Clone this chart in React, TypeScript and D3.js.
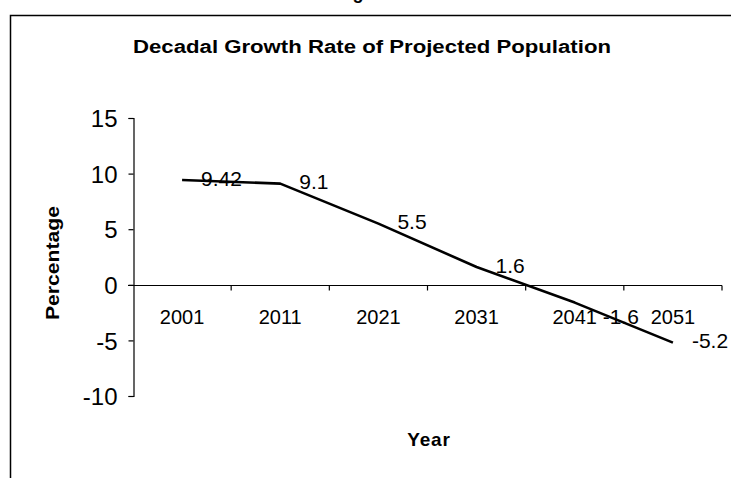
import React, { useEffect, useRef } from "react";
import * as d3 from "d3";

// Decadal growth rate (%) of the projected population by census year
const years = ["2001", "2011", "2021", "2031", "2041", "2051"];
const growthRates = [9.42, 9.1, 5.5, 1.6, -1.6, -5.2];
const yTicks = [-10, -5, 0, 5, 10, 15];

const chartTitle = "Decadal Growth Rate of Projected Population";
const xTitle = "Year";
const yTitle = "Percentage";

const W = 731;
const H = 478;
const FONT = "'Liberation Sans', Arial, Helvetica, sans-serif";

export default function App() {
  const ref = useRef<SVGSVGElement | null>(null);

  useEffect(() => {
    const svg = d3.select(ref.current);
    svg.selectAll("*").remove();

    const x = d3.scaleBand<string>().domain(years).range([133, 722]).padding(0);
    const y = d3.scaleLinear().domain([-10, 15]).range([396, 118]);
    const cx = (c: string) => (x(c) as number) + x.bandwidth() / 2;

    // Chart frame (top and left edges)
    svg
      .append("path")
      .attr("d", `M10.5,${H} L10.5,15.5 L${W},15.5`)
      .attr("fill", "none")
      .attr("stroke", "#000")
      .attr("stroke-width", 1.5);

    // Descender of heading text above the frame
    svg
      .append("text")
      .attr("x", 358)
      .attr("y", -1)
      .attr("text-anchor", "middle")
      .attr("font-family", FONT)
      .attr("font-weight", "bold")
      .attr("font-size", 18)
      .text("g");

    // Title
    svg
      .append("text")
      .attr("x", 372)
      .attr("y", 53)
      .attr("text-anchor", "middle")
      .attr("font-family", FONT)
      .attr("font-weight", "bold")
      .attr("font-size", 18)
      .attr("textLength", 478)
      .attr("lengthAdjust", "spacingAndGlyphs")
      .text(chartTitle);

    // Y axis
    const yAxis = svg
      .append("g")
      .attr("transform", "translate(133.5,0)")
      .call(
        d3
          .axisLeft(y)
          .tickValues(yTicks)
          .tickSize(5)
          .tickPadding(11)
          .tickFormat((d) => String(d))
      );
    yAxis.select(".domain").attr("stroke", "#000").attr("stroke-width", 1.2);
    yAxis.selectAll(".tick line").attr("stroke", "#000").attr("stroke-width", 1.2);
    yAxis
      .selectAll(".tick text")
      .attr("font-family", FONT)
      .attr("font-size", 24)
      .attr("fill", "#000")
      .attr("dy", "0.36em");

    // X axis along zero, with category ticks pointing down
    const y0 = Math.round(y(0)) + 0.5;
    svg
      .append("line")
      .attr("x1", 128)
      .attr("x2", 722)
      .attr("y1", y0)
      .attr("y2", y0)
      .attr("stroke", "#000")
      .attr("stroke-width", 1.2);
    const bounds = years.map((c) => x(c) as number).concat([x.range()[1]]);
    svg
      .append("g")
      .selectAll("line")
      .data(bounds.slice(1))
      .join("line")
      .attr("x1", (d) => d)
      .attr("x2", (d) => d)
      .attr("y1", y0)
      .attr("y2", y0 + 5)
      .attr("stroke", "#000")
      .attr("stroke-width", 1.2);
    svg
      .append("g")
      .selectAll("text")
      .data(years)
      .join("text")
      .attr("x", (d) => cx(d))
      .attr("y", 317)
      .attr("dy", "0.36em")
      .attr("text-anchor", "middle")
      .attr("font-family", FONT)
      .attr("font-size", 20)
      .text((d) => d);

    // Series line
    const line = d3
      .line<number>()
      .x((_, i) => cx(years[i]))
      .y((d) => y(d));
    svg
      .append("path")
      .datum(growthRates)
      .attr("d", line)
      .attr("fill", "none")
      .attr("stroke", "#000")
      .attr("stroke-width", 2.6)
      .attr("stroke-linejoin", "round");

    // Value labels placed to the right of each point
    const labelShift: Record<string, [number, number]> = { "2041": [28, 14] };
    svg
      .append("g")
      .selectAll("text")
      .data(growthRates)
      .join("text")
      .attr("x", (_, i) => cx(years[i]) + (labelShift[years[i]]?.[0] ?? 19))
      .attr("y", (d, i) => y(d) + (labelShift[years[i]]?.[1] ?? -2))
      .attr("dy", "0.36em")
      .attr("font-family", FONT)
      .attr("font-size", 21)
      .text((d) => String(d));

    // Axis titles
    svg
      .append("text")
      .attr("x", 429)
      .attr("y", 439)
      .attr("dy", "0.36em")
      .attr("text-anchor", "middle")
      .attr("font-family", FONT)
      .attr("font-weight", "bold")
      .attr("font-size", 19)
      .attr("letter-spacing", 0.8)
      .text(xTitle);
    svg
      .append("text")
      .attr("transform", "translate(52,263) rotate(-90)")
      .attr("dy", "0.36em")
      .attr("text-anchor", "middle")
      .attr("font-family", FONT)
      .attr("font-weight", "bold")
      .attr("font-size", 19)
      .attr("textLength", 114)
      .attr("lengthAdjust", "spacingAndGlyphs")
      .text(yTitle);
  }, []);

  return (
    <svg
      ref={ref}
      width={W}
      height={H}
      style={{ position: "fixed", left: 0, top: 0, background: "#fff" }}
    />
  );
}
